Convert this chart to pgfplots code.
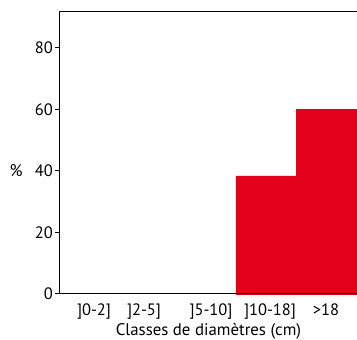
\documentclass[border=0pt]{standalone}
\usepackage{pgfplots}
\pgfplotsset{compat=1.18}
\usepackage{fontspec}
\setmainfont{PT Sans}
\definecolor{barred}{HTML}{E2001A}
\begin{document}
\begin{tikzpicture}[x=1pt,y=1pt]
\useasboundingbox (-60,-46) rectangle (297,294);
\begin{axis}[
  at={(0,0)}, anchor=south west,
  scale only axis, width=297pt, height=283pt,
  xmin=60, xmax=357, ymin=0, ymax=92,
  axis x line*=bottom, axis y line*=left,
  axis line style={line width=1pt, black},
  ytick={0,20,40,60,80},
  xtick={94,144,211,270,326},
  xticklabels={{]0-2]},{]2-5]},{]5-10]},{]10-18]},{>18}},
  x tick style={draw=none},
  y tick style={line width=1pt, black},
  tick align=outside,
  major tick length=5pt,
  yticklabel style={xshift=1.5pt},
  /pgf/number format/assume math mode=true,
  tick label style={font=\fontsize{16.5}{19}\selectfont},
  label style={font=\fontsize{16.8}{19}\selectfont},
  xticklabel style={yshift=-1pt},
  xlabel={Classes de diamètres (cm)},
  xlabel style={yshift=3pt},
  ylabel={\%},
  ylabel style={rotate=-90, at={(axis description cs:-0.148,0.435)}, anchor=center},
  clip=false,
]
\addplot[ybar interval, fill=barred, draw=barred] coordinates {(236,38.4) (296,60) (357,60)};
\draw[line width=1pt] (rel axis cs:0,1) -- (rel axis cs:1,1);
\draw[line width=1pt] (rel axis cs:0,0) -- (rel axis cs:1,0);
\end{axis}
\end{tikzpicture}
\end{document}
